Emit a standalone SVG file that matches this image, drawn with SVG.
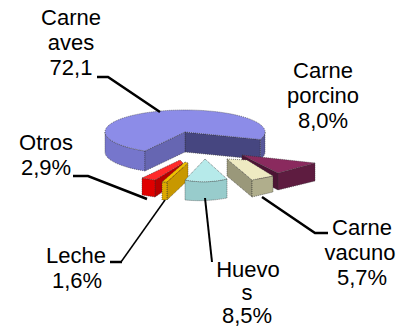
<svg xmlns="http://www.w3.org/2000/svg" width="408" height="328" viewBox="0 0 408 328">
<style>
text{font-family:"Liberation Sans",Arial,sans-serif;font-size:22px;fill:#000;text-anchor:middle}
.e{stroke:#333;stroke-width:0.6;stroke-dasharray:1 1;stroke-linejoin:round}
.ln{fill:none;stroke:#000;stroke-width:2.5;stroke-linecap:butt}
</style>
<rect width="408" height="328" fill="#fff"/>
<g id="aves">
<path class="e" d="M145,151 A80,22 0 0,1 105,132 L105,152 A80,22 0 0,0 145,171 Z" fill="#7676cc"/>
<path class="e" d="M265,132 A80,22 0 0,1 260.2,139.5 L260.2,159.5 A80,22 0 0,0 265,152 Z" fill="#58589a"/>
<path class="e" d="M185,132 L260.2,139.5 L260.2,159.5 L185,152 Z" fill="#464680"/>
<path class="e" d="M145,151 L185,132 L185,152 L145,171 Z" fill="#6666b2"/>
<path class="e" d="M185,132 L260.2,139.5 A80,22 0 1,0 145,151 Z" fill="#8c8ce8"/>
<text x="71" y="25">Carne</text>
<text x="71" y="50">aves</text>
<text x="71" y="75">72,1</text>
</g>
<g id="porcino">
<path class="e" d="M242,155 L278,173 L278,190 L242,172 Z" fill="#4c1434"/>
<path class="e" d="M278,173 L315,163 L315,181 L278,190 Z" fill="#5e1c40"/>
<path class="e" d="M242,155 L315,163 L278,173 Z" fill="#8a2a5e"/>
<text x="323" y="78">Carne</text>
<text x="323" y="103">porcino</text>
<text x="323" y="128">8,0%</text>
</g>
<g id="vacuno">
<path class="e" d="M227,159 L252,180 L252,197 L227,176 Z" fill="#9a987a"/>
<path class="e" d="M252,180 L273,176 L273,192 L252,197 Z" fill="#b0ae8c"/>
<path class="e" d="M227,159 L247,160 L273,176 L252,180 Z" fill="#eeeac2"/>
<text x="362" y="235">Carne</text>
<text x="360" y="260">vacuno</text>
<text x="362" y="285">5,7%</text>
</g>
<g id="otros">
<path class="e" d="M155,180 L183,163 L183,178 L155,197 Z" fill="#b80000"/>
<path class="e" d="M142,178 L155,180 L155,197 L142,195 Z" fill="#e00000"/>
<path class="e" d="M180,160 L183,163 L155,180 L142,178 Z" fill="#ff2a2a"/>
<text x="46" y="150">Otros</text>
<text x="46" y="175">2,9%</text>
</g>
<g id="leche">
<path class="e" d="M167,182 L188,163 L188,180 L167,200 Z" fill="#c89800"/>
<path class="e" d="M162,182 L167,182 L167,200 L162,200 Z" fill="#dca800"/>
<path class="e" d="M185,162 L188,163 L167,182 L162,182 Z" fill="#f0c000"/>
<text x="76" y="263">Leche</text>
<text x="77" y="288">1,6%</text>
</g>
<g id="huevos">
<path class="e" d="M185,180 Q206,184 227,179 L227,198 Q206,202 185,200 Z" fill="#98cccc"/>
<path class="e" d="M205,159 L227,179 Q206,184 185,180 Z" fill="#b6eaea"/>
<text x="248" y="277">Huevo</text>
<text x="247" y="300">s</text>
<text x="247" y="323">8,5%</text>
</g>
<g id="connectors">
<polyline class="ln" points="97,77 108,77 160,112"/>
<polyline class="ln" points="73,176 88,176 147,199"/>
<line class="ln" x1="110" y1="262" x2="122" y2="262"/>
<line x1="121" y1="262" x2="165" y2="200" stroke="#000" stroke-width="1.5"/>
<line x1="205" y1="198" x2="212" y2="262" stroke="#000" stroke-width="2"/>
<polyline class="ln" points="262,197 315,233 328,233"/>
</g>
</svg>
